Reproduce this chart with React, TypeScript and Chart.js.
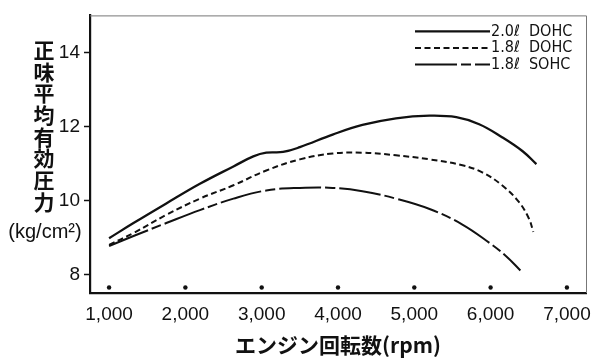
import React, { useEffect, useRef } from "react";
import { Chart, registerables } from "chart.js";

Chart.register(...registerables);

// ---- data ----
const rpm20Dohc = [1000, 1320, 1750, 2190, 2630, 2890, 3060, 3280, 3500, 3930, 4320, 4760, 5200, 5550, 5850, 6150, 6420, 6600];
const bmep20Dohc = [8.98, 9.39, 9.92, 10.45, 10.92, 11.19, 11.29, 11.31, 11.44, 11.78, 12.04, 12.22, 12.29, 12.25, 12.06, 11.71, 11.33, 10.98];

const rpm18Dohc = [1000, 1320, 1750, 2190, 2630, 3060, 3500, 3930, 4320, 4760, 5200, 5630, 5890, 6150, 6370, 6500, 6560];
const bmep18Dohc = [8.8, 9.12, 9.61, 10.05, 10.41, 10.81, 11.11, 11.27, 11.29, 11.22, 11.11, 10.95, 10.76, 10.41, 9.96, 9.52, 9.15];

const rpm18Sohc = [1000, 1320, 1750, 2190, 2630, 3060, 3500, 3930, 4320, 4760, 5200, 5630, 5980, 6200, 6390];
const bmep18Sohc = [8.77, 9.04, 9.39, 9.74, 10.05, 10.27, 10.34, 10.34, 10.25, 10.05, 9.77, 9.35, 8.86, 8.5, 8.11];

const dotRpm = [1000, 2000, 3000, 4000, 5000, 6000, 7000];
const dotLevel = [7.65, 7.65, 7.65, 7.65, 7.65, 7.65, 7.65];

const seriesLabels = ["2.0ℓ  DOHC", "1.8ℓ  DOHC", "1.8ℓ  SOHC"];

const xTicks = [1000, 2000, 3000, 4000, 5000, 6000, 7000];
const xTickLabels = ["1,000", "2,000", "3,000", "4,000", "5,000", "6,000", "7,000"];
const yTicks = [8, 10, 12, 14];
const yTickLabels = ["8", "10", "12", "14"];

const xTitle = "エンジン回転数(rpm)";
const yTitleChars = ["正", "味", "平", "均", "有", "効", "圧", "力"];
const yTitleUnit = "(kg/cm²)";

const zip = (xs: number[], ys: number[]) => xs.map((x, i) => ({ x, y: ys[i] }));

const INK = "#111";

const decorPlugin = {
  id: "decor",
  afterDraw(chart: any) {
    const ctx: CanvasRenderingContext2D = chart.ctx;
    const { left, top, right, bottom } = chart.chartArea;
    ctx.save();
    // thin top/right frame
    ctx.strokeStyle = "#777";
    ctx.lineWidth = 1;
    ctx.setLineDash([]);
    ctx.beginPath();
    ctx.moveTo(left, top + 0.5);
    ctx.lineTo(right + 0.5, top + 0.5);
    ctx.lineTo(right + 0.5, bottom);
    ctx.stroke();

    // vertical y-axis title
    ctx.fillStyle = INK;
    ctx.textAlign = "center";
    ctx.textBaseline = "middle";
    ctx.font = 'bold 21px "Noto Sans CJK JP"';
    yTitleChars.forEach((c, i) => ctx.fillText(c, 44, 50 + i * 21.7));
    ctx.font = '20px "Liberation Sans"';
    ctx.fillText(yTitleUnit, 45, 232);

    // legend inside the plot, top right
    const lineStart = right - 171;
    const lineEnd = right - 96;
    chart.data.datasets.forEach((ds: any, i: number) => {
      if (!ds.label) return;
      const y = top + 16 + i * 16.6;
      ctx.strokeStyle = INK;
      ctx.lineWidth = ds.borderWidth;
      ctx.setLineDash(ds.borderDash || []);
      ctx.beginPath();
      ctx.moveTo(lineStart, y);
      ctx.lineTo(lineEnd, y);
      ctx.stroke();
      ctx.setLineDash([]);
      ctx.textAlign = "left";
      ctx.font = '16px "DejaVu Sans Condensed", "DejaVu Sans"';
      ctx.fillText(ds.label, lineEnd + 1, y);
    });
    ctx.restore();
  },
};

export default function App() {
  const ref = useRef<HTMLCanvasElement>(null);
  useEffect(() => {
    document.body.style.margin = "0";
    Chart.defaults.font.family = '"Liberation Sans", Arial, sans-serif';
    Chart.defaults.color = INK;
    const lineBase = {
      pointRadius: 0,
      borderColor: INK,
      backgroundColor: INK,
      fill: false,
      tension: 0.4,
      borderCapStyle: "butt" as const,
    };
    const chart = new Chart(ref.current!, {
      type: "line",
      data: {
        datasets: [
          { ...lineBase, label: seriesLabels[0], data: zip(rpm20Dohc, bmep20Dohc), borderWidth: 2.3 },
          { ...lineBase, label: seriesLabels[1], data: zip(rpm18Dohc, bmep18Dohc), borderWidth: 2, borderDash: [6, 3.5] },
          { ...lineBase, label: seriesLabels[2], data: zip(rpm18Sohc, bmep18Sohc), borderWidth: 2, borderDash: [42, 4, 10, 4] },
          {
            label: "",
            data: zip(dotRpm, dotLevel),
            showLine: false,
            pointRadius: 2.2,
            pointBorderWidth: 0,
            pointBackgroundColor: INK,
            borderColor: INK,
            borderWidth: 0,
          },
        ],
      },
      options: {
        responsive: false,
        animation: false,
        devicePixelRatio: 1,
        layout: { padding: { top: 10, right: 14, left: 0, bottom: 0 } },
        plugins: { legend: { display: false }, tooltip: { enabled: false } },
        scales: {
          x: {
            type: "linear",
            min: 750,
            max: 7250,
            afterBuildTicks: (scale: any) => {
              scale.ticks = xTicks.map((v) => ({ value: v }));
            },
            afterFit: (scale: any) => {
              scale.height = 71;
            },
            ticks: {
              padding: 2,
              font: { size: 19 },
              color: INK,
              maxRotation: 0,
              autoSkip: false,
              callback: (v: any) => xTickLabels[xTicks.indexOf(Number(v))],
            },
            grid: { display: false },
            border: { display: true, color: INK, width: 2.2 },
            title: {
              display: true,
              text: xTitle,
              color: INK,
              font: { family: '"Noto Sans CJK JP"', size: 21, weight: "bold" },
              padding: { top: 0, bottom: 6 },
            },
          },
          y: {
            type: "linear",
            min: 7.5,
            max: 15,
            afterBuildTicks: (scale: any) => {
              scale.ticks = yTicks.map((v) => ({ value: v }));
            },
            afterFit: (scale: any) => {
              scale.width = 90;
            },
            ticks: {
              padding: 4,
              font: { size: 19 },
              color: INK,
              callback: (v: any) => yTickLabels[yTicks.indexOf(Number(v))],
            },
            grid: {
              display: true,
              drawOnChartArea: false,
              drawTicks: true,
              tickLength: 6,
              tickWidth: 1.5,
              tickColor: INK,
            },
            border: { display: true, color: INK, width: 2.2 },
          },
        },
      },
      plugins: [decorPlugin],
    });
    return () => chart.destroy();
  }, []);
  return (
    <div style={{ width: 600, height: 364 }}>
      <canvas ref={ref} width={600} height={364} style={{ display: "block" }} />
    </div>
  );
}
